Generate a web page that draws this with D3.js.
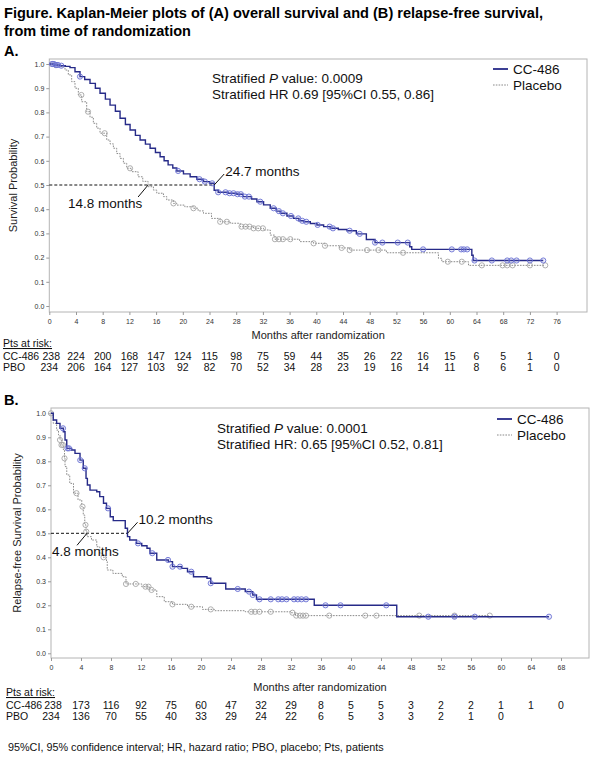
<!DOCTYPE html>
<html>
<head>
<meta charset="utf-8">
<script src="https://cdn.jsdelivr.net/npm/d3@7"></script>
<style>
  body { margin: 0; background: #fff; }
  svg { display: block; font-family: "Liberation Sans", Arial, sans-serif; }
</style>
</head>
<body>
<svg id="fig" width="600" height="759"></svg>
<script>
// ---- data ----

// (A) overall survival, step points [month, survival]
var osCC486 = [[0,1],[0.8,0.996],[1.6,0.993],[2.4,0.99],[3.1,0.985],[3.85,0.968],[4.6,0.948],[5.3,0.936],[6.1,0.92],[6.9,0.9],[7.6,0.879],[8.4,0.855],[9.1,0.83],[9.9,0.805],[10.6,0.776],[11.4,0.75],[12.1,0.727],[12.9,0.705],[13.6,0.686],[14.4,0.669],[15.1,0.652],[15.9,0.634],[16.6,0.617],[17.2,0.6],[17.8,0.583],[18.5,0.57],[19.1,0.558],[20.1,0.546],[21.1,0.534],[22.1,0.524],[23.1,0.514],[24.0,0.507],[24.7,0.478],[25.3,0.47],[26.8,0.466],[28.1,0.462],[29.0,0.452],[30.3,0.442],[31.1,0.431],[32.1,0.418],[33.1,0.404],[34.0,0.392],[34.6,0.383],[35.6,0.372],[36.6,0.362],[37.4,0.352],[38.1,0.348],[39.1,0.341],[40.1,0.335],[41.1,0.328],[42.1,0.321],[43.3,0.316],[44.6,0.311],[46,0.298],[47.5,0.275],[48.8,0.262],[54,0.245],[54.3,0.234],[63.3,0.21],[63.5,0.188],[74,0.188]];
var osPlacebo = [[0,1],[0.8,0.995],[1.6,0.989],[2.35,0.975],[2.85,0.955],[3.35,0.927],[3.85,0.9],[4.35,0.872],[4.85,0.844],[5.6,0.803],[6.1,0.78],[6.6,0.755],[7.1,0.735],[7.6,0.714],[8.6,0.686],[9.1,0.67],[9.6,0.652],[10.1,0.63],[10.6,0.61],[11.1,0.59],[11.6,0.569],[12.3,0.555],[13.3,0.534],[14.0,0.515],[14.8,0.493],[15.6,0.479],[16.1,0.466],[17.1,0.452],[17.6,0.438],[18.6,0.424],[19.1,0.417],[20.3,0.41],[21.6,0.404],[22.3,0.393],[23.1,0.383],[24.3,0.362],[25.6,0.348],[27.1,0.342],[28.6,0.328],[30.6,0.321],[32.1,0.314],[33.1,0.293],[33.8,0.276],[37.5,0.266],[39.6,0.259],[41.3,0.249],[43.5,0.24],[45,0.231],[50.5,0.22],[58.3,0.197],[58.8,0.183],[62.8,0.168],[74.3,0.168]];
// censored months
var osCC486Censor = [0.4,0.7,1.0,1.3,1.8,4.6,19.3,22.5,23.3,24.4,25.3,26.4,27,27.6,28.2,28.7,29.3,29.9,31.6,33.6,34.4,35,36.2,37.3,37.9,38.5,40.2,42,42.5,45,46.5,48.8,49.9,52.2,53.7,56,60.3,61.7,62.1,62.6,63.7,66.3,68.6,69.2,70,72,74];
var osPlaceboCensor = [0.5,1.0,4.8,5.8,8.3,12.1,18.6,21.6,25.6,26.6,28.8,29.4,30,30.6,31.3,32,33.8,34.4,35,36.1,39.6,41.3,43.8,45,47.6,49.3,53,59.7,61.8,64.8,67.9,68.6,69.4,72,74.3];
var osMonthTicks = [0,4,8,12,16,20,24,28,32,36,40,44,48,52,56,60,64,68,72,76];
var osRiskCC486 = [238,224,200,168,147,124,115,98,75,59,44,35,26,22,16,15,6,5,1,0];
var osRiskPBO = [234,206,164,127,103,92,82,70,52,34,28,23,19,16,14,11,8,6,1,0];
var osMedians = [24.7, 14.8];

// (B) relapse-free survival
var rfsCC486 = [[0,1],[0.3,0.972],[0.75,0.958],[1.2,0.9375],[1.65,0.923],[1.87,0.889],[2.1,0.854],[2.75,0.847],[3.2,0.833],[3.87,0.805],[4.3,0.771],[4.67,0.729],[4.85,0.701],[5.2,0.68],[6.1,0.673],[6.5,0.653],[7.0,0.625],[7.4,0.604],[7.9,0.569],[8.3,0.553],[9.9,0.521],[10.2,0.486],[10.5,0.472],[11.4,0.458],[12.1,0.448],[12.8,0.4375],[13.2,0.417],[14.1,0.389],[15.65,0.382],[16.2,0.361],[17.4,0.354],[18.2,0.34],[19,0.319],[20.8,0.3125],[21.3,0.292],[23.3,0.268],[25.9,0.257],[26.9,0.243],[27.4,0.225],[35.1,0.2],[46.1,0.1525],[66.4,0.1525]];
var rfsPlacebo = [[0,1],[0.3,0.958],[0.75,0.93],[1.0,0.91],[1.2,0.889],[1.4,0.868],[1.65,0.847],[1.8,0.8125],[1.87,0.778],[2.1,0.743],[2.5,0.708],[3.0,0.667],[3.6,0.639],[4.1,0.611],[4.3,0.576],[4.5,0.535],[4.67,0.507],[4.8,0.486],[5.4,0.472],[6.1,0.444],[6.5,0.417],[7.0,0.4],[7.4,0.382],[7.5,0.347],[8.25,0.333],[9.5,0.319],[10,0.289],[12.1,0.2775],[13.1,0.264],[14.1,0.236],[15.1,0.215],[16.2,0.204],[18.2,0.194],[20.2,0.183],[21.8,0.1775],[25.9,0.173],[32,0.169],[32.6,0.157],[58.5,0.157]];
var rfsCC486Censor = [1.6,2.2,2.4,3.9,4.5,7.6,11.6,13.5,15.6,16.2,17.2,18.7,21.3,24.9,26.4,26.9,27.8,29.3,30.3,30.8,31.4,32.4,32.9,33.4,34,36.6,38.6,44.7,50.3,53.8,56.5,66.4];
var rfsPlaceboCensor = [0,1.2,1.4,1.6,1.8,3.4,4.2,4.6,4.7,7,10,11.3,12.6,13.0,13.4,16.2,18.7,21.3,26.7,27.2,27.8,29.3,32.2,32.7,33.2,33.6,34,37.1,41.9,43.4,49.1,53.8,58.5];
var rfsMonthTicks = [0,4,8,12,16,20,24,28,32,36,40,44,48,52,56,60,64,68];
var rfsRiskCC486 = [238,173,116,92,75,60,47,32,29,8,5,5,3,2,2,1,1,0];
var rfsRiskPBO = [234,136,70,55,40,33,29,24,22,6,5,3,3,2,1,0];
var rfsMedians = [10.2, 4.8];

var probTicks = [0,0.1,0.2,0.3,0.4,0.5,0.6,0.7,0.8,0.9,1.0];

var ccColor = "#262a88", ccMarker = "#6c73d4";
var pboColor = "#8a8a8a", pboMarker = "#a6a6a6";

var svg = d3.select("#fig");

// ---- titles ----
svg.append("text").attr("x", 4).attr("y", 18)
    .attr("font-size", 14.5).attr("font-weight", "bold")
    .attr("textLength", 539).attr("lengthAdjust", "spacingAndGlyphs")
    .text("Figure. Kaplan-Meier plots of (A) overall survival and (B) relapse-free survival,");
svg.append("text").attr("x", 4).attr("y", 36)
    .attr("font-size", 14.5).attr("font-weight", "bold")
    .text("from time of randomization");

function stepAt(curve, t)
{
    var s = curve[0][1];
    for(var i = 0; i < curve.length; i++)
        if(curve[i][0] <= t) s = curve[i][1];
    return s;
}

function drawPanel(p)
{
    var x = d3.scaleLinear().domain([0, 1]).range([p.left, p.left + p.monthPx]);
    var y = d3.scaleLinear().domain([0, 1]).range([p.y0, p.y1]);

    var g = svg.append("g");

    g.append("text").attr("x", 4).attr("y", p.top - 3)
        .attr("font-size", 14.5).attr("font-weight", "bold").text(p.letter);

    // frame
    g.append("rect")
        .attr("x", p.left).attr("y", p.top)
        .attr("width", p.right - p.left).attr("height", p.bottom - p.top)
        .attr("fill", "none").attr("stroke", "#b4b4b4").attr("stroke-width", 1);

    // axes
    var yAxis = g.append("g").attr("transform", "translate(" + p.left + ",0)")
        .call(d3.axisLeft(y).tickValues(probTicks).tickSize(3).tickPadding(2).tickFormat(d3.format(".1f")));
    var xAxis = g.append("g").attr("transform", "translate(0," + p.bottom + ")")
        .call(d3.axisBottom(x).tickValues(p.ticks).tickSize(3).tickPadding(4).tickFormat(d3.format("d")));
    [yAxis, xAxis].forEach(function(a) {
        a.select(".domain").remove();
        a.selectAll("line").attr("stroke", "#999");
        a.selectAll("text").attr("font-size", 7).attr("fill", "#333")
            .attr("font-family", "'Liberation Sans', Arial, sans-serif");
    });

    g.append("text")
        .attr("transform", "translate(" + p.yLabelX + "," + ((p.top + p.bottom) / 2) + ") rotate(-90)")
        .attr("text-anchor", "middle").attr("font-size", 11).attr("fill", "#222")
        .text(p.yLabel);
    g.append("text").attr("x", (p.left + p.right) / 2).attr("y", p.xLabelY)
        .attr("text-anchor", "middle").attr("font-size", 11).attr("fill", "#222")
        .text("Months after randomization");

    // median reference line
    var xMed = Math.max(x(p.medians[0]), x(p.medians[1]));
    g.append("line")
        .attr("x1", x(0)).attr("x2", xMed).attr("y1", y(0.5)).attr("y2", y(0.5))
        .attr("stroke", "#111").attr("stroke-width", 1).attr("stroke-dasharray", "3,2");

    var line = d3.line().curve(d3.curveStepAfter)
        .x(function(d) { return x(d[0]); })
        .y(function(d) { return y(d[1]); });

    // placebo
    g.append("path").datum(p.pbo).attr("d", line)
        .attr("fill", "none").attr("stroke", pboColor).attr("stroke-width", 1)
        .attr("stroke-dasharray", "1.6,1.2");
    g.selectAll(".cp").data(p.pboCensor).enter().append("circle")
        .attr("cx", function(d) { return x(d); })
        .attr("cy", function(d) { return y(stepAt(p.pbo, d)); })
        .attr("r", 2.6).attr("fill", "none").attr("stroke", pboMarker).attr("stroke-width", 0.9);

    // CC-486
    g.append("path").datum(p.cc).attr("d", line)
        .attr("fill", "none").attr("stroke", ccColor).attr("stroke-width", 1.4);
    g.selectAll(".cc").data(p.ccCensor).enter().append("circle")
        .attr("cx", function(d) { return x(d); })
        .attr("cy", function(d) { return y(stepAt(p.cc, d)); })
        .attr("r", 2.6).attr("fill", "rgba(120,128,220,0.15)").attr("stroke", ccMarker).attr("stroke-width", 0.9);

    // median labels
    var mA = p.medians[0], mB = p.medians[1];
    g.append("line").attr("x1", x(mA)).attr("y1", y(0.5)).attr("x2", x(mA) + 10).attr("y2", y(0.5) - 11)
        .attr("stroke", "#111").attr("stroke-width", 1);
    g.append("text").attr("x", x(mA) + 11).attr("y", y(0.5) - 9)
        .attr("font-size", 13.5).attr("fill", "#111").text(mA + " months");
    g.append("line").attr("x1", x(mB)).attr("y1", y(0.5)).attr("x2", x(mB) - 10).attr("y2", y(0.5) + 12)
        .attr("stroke", "#111").attr("stroke-width", 1);
    g.append("text").attr("x", p.medLabelX).attr("y", y(0.5) + 23)
        .attr("font-size", 13.5).attr("fill", "#111").text(mB + " months");

    // stats text
    var st = g.append("text").attr("x", p.statX).attr("y", p.statY)
        .attr("font-size", 13.5).attr("fill", "#111");
    st.append("tspan").text("Stratified ");
    st.append("tspan").attr("font-style", "italic").text("P");
    st.append("tspan").text(" value: " + p.pValue);
    g.append("text").attr("x", p.statX).attr("y", p.statY + 15.5)
        .attr("font-size", 13.5).attr("fill", "#111").text(p.hrText);

    // legend
    g.append("line").attr("x1", p.legX).attr("x2", p.legX + 15)
        .attr("y1", p.legY).attr("y2", p.legY)
        .attr("stroke", ccColor).attr("stroke-width", 1.8);
    g.append("text").attr("x", p.legX + 20).attr("y", p.legY + 5)
        .attr("font-size", 13.5).attr("fill", "#111").text("CC-486");
    g.append("line").attr("x1", p.legX).attr("x2", p.legX + 15)
        .attr("y1", p.legY + 16).attr("y2", p.legY + 16)
        .attr("stroke", pboColor).attr("stroke-width", 1).attr("stroke-dasharray", "1.6,1.2");
    g.append("text").attr("x", p.legX + 20).attr("y", p.legY + 21)
        .attr("font-size", 13.5).attr("fill", "#111").text("Placebo");

    // numbers at risk
    g.append("text").attr("x", p.rowLabelX).attr("y", p.riskY)
        .attr("font-size", 10.5).attr("fill", "#111")
        .attr("text-decoration", "underline").text("Pts at risk:");
    g.append("text").attr("x", p.rowLabelX).attr("y", p.riskY + 12.5)
        .attr("font-size", 10.5).attr("fill", "#111").text("CC-486");
    g.append("text").attr("x", p.rowLabelX).attr("y", p.riskY + 24)
        .attr("font-size", 10.5).attr("fill", "#111").text("PBO");
    g.selectAll(".rc").data(p.riskCC).enter().append("text")
        .attr("x", function(d, i) { return x(p.ticks[i]) + (i == 0 ? 2 : 0); })
        .attr("y", p.riskY + 12.5)
        .attr("text-anchor", "middle").attr("font-size", 10.5).attr("fill", "#111")
        .text(function(d) { return d; });
    g.selectAll(".rp").data(p.riskPBO).enter().append("text")
        .attr("x", function(d, i) { return x(p.ticks[i]); })
        .attr("y", p.riskY + 24)
        .attr("text-anchor", "middle").attr("font-size", 10.5).attr("fill", "#111")
        .text(function(d) { return d; });
}

drawPanel({
    letter: "A.", left: 49.3, right: 587, top: 59, bottom: 312,
    monthPx: 6.675, y0: 306, y1: 64,
    ticks: osMonthTicks, cc: osCC486, pbo: osPlacebo,
    ccCensor: osCC486Censor, pboCensor: osPlaceboCensor,
    medians: osMedians, medLabelX: 68,
    yLabel: "Survival Probability", yLabelX: 17, xLabelY: 339,
    statX: 212, statY: 83, pValue: "0.0009",
    hrText: "Stratified HR 0.69 [95%CI 0.55, 0.86]",
    legX: 493, legY: 69,
    riskY: 347, rowLabelX: 3,
    riskCC: osRiskCC486, riskPBO: osRiskPBO
});

drawPanel({
    letter: "B.", left: 51, right: 589, top: 408, bottom: 658,
    monthPx: 7.5, y0: 653.3, y1: 413.3,
    ticks: rfsMonthTicks, cc: rfsCC486, pbo: rfsPlacebo,
    ccCensor: rfsCC486Censor, pboCensor: rfsPlaceboCensor,
    medians: rfsMedians, medLabelX: 52,
    yLabel: "Relapse-free Survival Probability", yLabelX: 21, xLabelY: 691,
    statX: 217, statY: 433, pValue: "0.0001",
    hrText: "Stratified HR: 0.65 [95%CI 0.52, 0.81]",
    legX: 497, legY: 419,
    riskY: 696, rowLabelX: 6,
    riskCC: rfsRiskCC486, riskPBO: rfsRiskPBO
});

// footnote
svg.append("text").attr("x", 8).attr("y", 751)
    .attr("font-size", 10.8).attr("fill", "#111")
    .text("95%CI, 95% confidence interval; HR, hazard ratio; PBO, placebo; Pts, patients");
</script>
</body>
</html>
